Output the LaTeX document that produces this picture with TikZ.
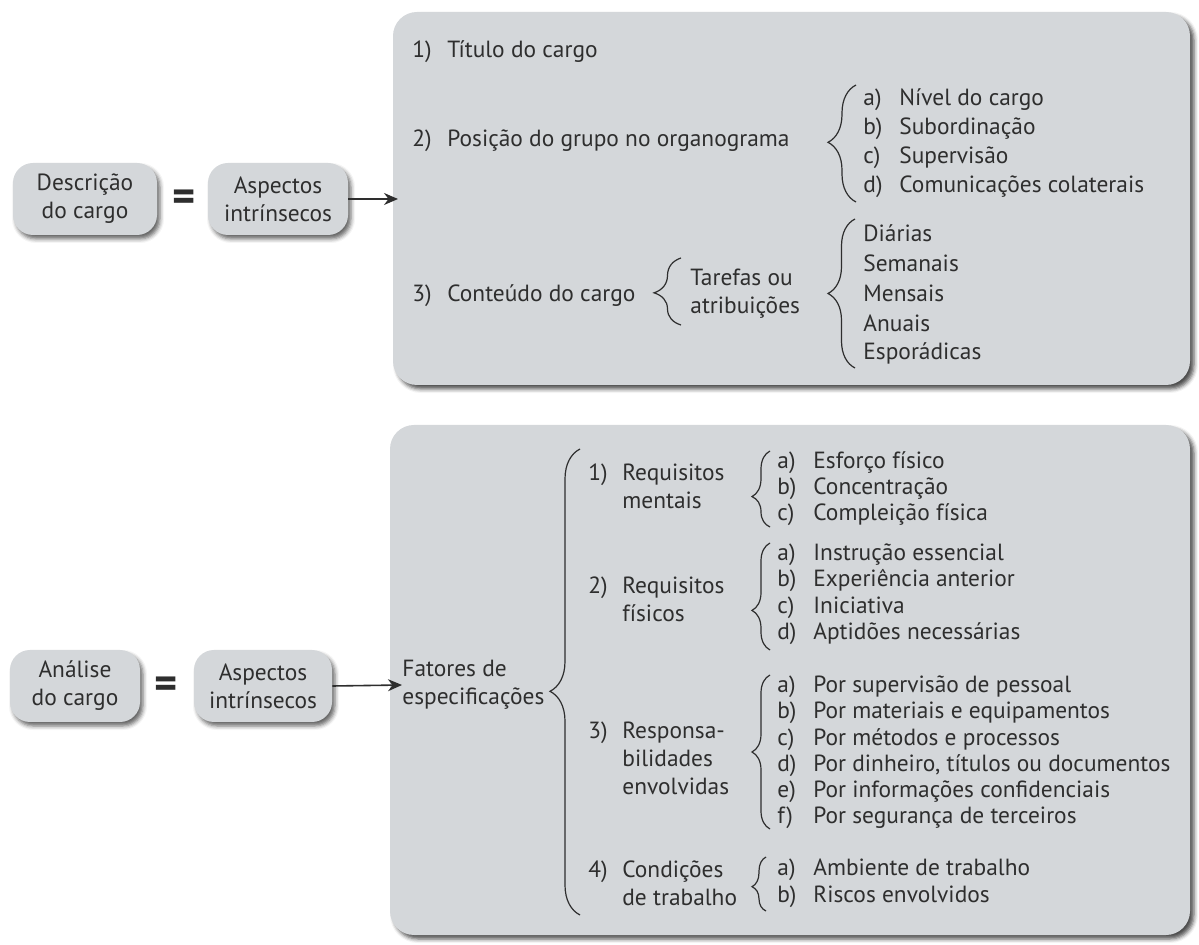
\documentclass[tikz,border=0pt]{standalone}
\usepackage{fontspec}
\setmainfont{PT Sans}
\usetikzlibrary{decorations.pathreplacing,shadows.blur,arrows.meta}
\definecolor{boxfill}{HTML}{D4D7DA}
\definecolor{ink}{HTML}{2E2E2E}
\newcommand\myitem[3]{\makebox[#1][l]{#2}#3}
\begin{document}
\begin{tikzpicture}[x=0.5pt,y=-0.5pt,
  font=\fontsize{11.7}{14}\selectfont, text=ink,
  panel/.style={fill=boxfill, rounded corners=12pt,
    blur shadow={shadow xshift=2pt, shadow yshift=-2pt, shadow blur radius=2pt, shadow opacity=70}},
  pill/.style={fill=boxfill, rounded corners=10pt, minimum height=36pt, align=center, inner sep=2pt,
    blur shadow={shadow xshift=1.5pt, shadow yshift=-2pt, shadow blur radius=2pt, shadow opacity=60}},
  txt/.style={anchor=west, inner sep=0pt, align=left},
  eq/.style={inner sep=0pt, font=\fontsize{22}{22}\selectfont\bfseries},
  brc/.style={decorate, decoration={brace, #1}, draw=ink, line width=0.6pt},
  brc/.default={amplitude=14pt, aspect=0.5},
  arr/.style={draw=ink, line width=0.8pt, -{Stealth[length=7pt,width=6pt]}},
]
\useasboundingbox (0,0) rectangle (1199,945);

% ---------- top panel ----------
\path[panel] (393,12) rectangle (1190,385);

\node[pill, minimum width=72pt] (desc) at (85,199) {Descrição\\do cargo};
\node[eq] (eq1) at (184,201) {=};
\node[pill, minimum width=70pt] (asp1) at (278,199) {Aspectos\\intrínsecos};
\coordinate (arr1) at (398,199);
\draw[arr] (asp1.east) -- (arr1);

\node[txt] (t1) at (412,52) {\myitem{17.5pt}{1)}{Título do cargo}};
\node[txt] (t2) at (412,141) {\myitem{17.5pt}{2)}{Posição do grupo no organograma}};
\draw[brc={amplitude=14pt, aspect=0.51}] (856,202) -- (856,85);
\foreach \y/\l/\t [count=\i] in {100/a)/Nível do cargo, 129/b)/Subordinação, 158/c)/Supervisão, 187/d)/Comunicações colaterais}
  \node[txt] (o\i) at (863,\y) {\myitem{18pt}{\l}{\t}};

\node[txt] (t3) at (412,296) {\myitem{17.5pt}{3)}{Conteúdo do cargo}};
\draw[brc={amplitude=13.5pt, aspect=0.48}] (681,325) -- (681,258);
\node[txt] (tar) at (690,294) {Tarefas ou\\atribuições};
\draw[brc={amplitude=13.5pt, aspect=0.5}] (855,368) -- (855,219);
\foreach \y/\t [count=\i] in {233/Diárias, 263/Semanais, 293/Mensais, 323/Anuais, 353/Esporádicas}
  \node[txt] (p\i) at (863,\y) {\t};

% ---------- bottom panel ----------
\path[panel] (390,425) rectangle (1190,935);

\node[pill, minimum width=65pt] (anal) at (75,686) {Análise\\do cargo};
\node[eq] (eq2) at (166,688) {=};
\node[pill, minimum width=69pt] (asp2) at (263,686) {Aspectos\\intrínsecos};
\node[txt] (fat) at (402,685) {Fatores de\\especificações};
\draw[arr] (asp2.east) -- (fat.west);

\draw[brc={amplitude=15pt, aspect=0.48}] (580,915) -- (580,449);

\node[txt] (r1) at (588,486) {\myitem{17pt}{1)}{Requisitos}\\\hspace*{17pt}mentais};
\draw[brc={amplitude=9pt, aspect=0.4}] (770,527) -- (770,451);
\foreach \y/\l/\t [count=\i] in {463/a)/Esforço físico, 489/b)/Concentração, 515/c)/Compleição física}
  \node[txt] (m\i) at (777,\y) {\myitem{18pt}{\l}{\t}};

\node[txt] (r2) at (588,599) {\myitem{17pt}{2)}{Requisitos}\\\hspace*{17pt}físicos};
\draw[brc={amplitude=9pt, aspect=0.37}] (770,650) -- (770,543);
\foreach \y/\l/\t [count=\i] in {555/a)/Instrução essencial, 581/b)/Experiência anterior, 608/c)/Iniciativa, 634/d)/Aptidões necessárias}
  \node[txt] (f\i) at (777,\y) {\myitem{18pt}{\l}{\t}};

\node[txt] (r3) at (588,758) {\myitem{17pt}{3)}{Responsa-}\\\hspace*{17pt}bilidades\\\hspace*{17pt}envolvidas};
\draw[brc={amplitude=9pt, aspect=0.5}] (770,829) -- (770,675);
\foreach \y/\l/\t [count=\i] in {687/a)/Por supervisão de pessoal, 713/b)/Por materiais e equipamentos, 740/c)/Por métodos e processos, 766/d)/{Por dinheiro, títulos ou documentos}, 792/e)/Por informações confidenciais, 818/f)/Por segurança de terceiros}
  \node[txt] (s\i) at (777,\y) {\myitem{18pt}{\l}{\t}};

\node[txt] (r4) at (588,883) {\myitem{17pt}{4)}{Condições}\\\hspace*{17pt}de trabalho};
\draw[brc={amplitude=7pt, aspect=0.45}] (766,911) -- (766,857);
\foreach \y/\l/\t [count=\i] in {870/a)/Ambiente de trabalho, 897/b)/Riscos envolvidos}
  \node[txt] (c\i) at (777,\y) {\myitem{18pt}{\l}{\t}};
\end{tikzpicture}
\end{document}
